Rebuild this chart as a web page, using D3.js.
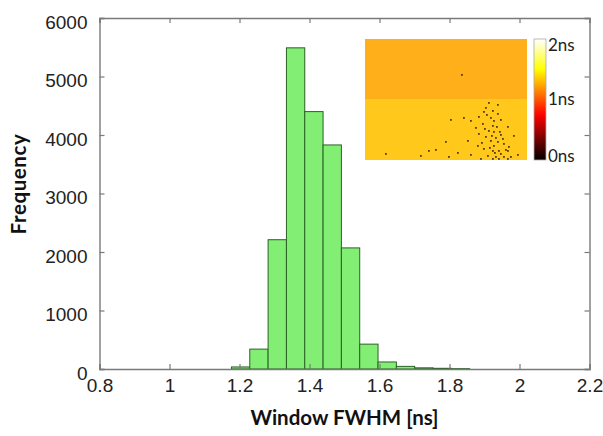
<!DOCTYPE html>
<html><head><meta charset="utf-8">
<script src="https://cdn.jsdelivr.net/npm/d3@7"></script>
<style>body{margin:0;background:#fff}svg{display:block}</style>
</head><body>
<svg id="c" width="603" height="436"></svg>
<script>
// ---- data ----
const binEdges = [1.1770, 1.2294, 1.2817, 1.3341, 1.3864, 1.4388, 1.4911, 1.5435, 1.5958, 1.6482, 1.7005, 1.7529, 1.8052, 1.8576];
const counts   = [35, 340, 2210, 5490, 4400, 3830, 2070, 425, 120, 45, 20, 12, 6];
const xTicks = [0.8, 1, 1.2, 1.4, 1.6, 1.8, 2, 2.2];
const yTicks = [0, 1000, 2000, 3000, 4000, 5000, 6000];
const xLabel = "Window FWHM [ns]";
const yLabel = "Frequency";
// inset map: two halves (ns) and dark pixels (col,row) on a 162x121 grid
const insetHalfValues = [1.24, 1.32];   // top half, bottom half
const darkCols = [96,123,132,120,127,118,132,85,98,113,125,105,128,135,117,127,131,142,123,128,113,135,120,130,148,125,132,138,112,128,143,80,102,118,127,133,142,63,70,20,92,105,122,130,135,138,145,152,115,127,83,133,142,55,110,121,126,137,116,124,129,140,119,134];
const darkRows = [35,63,65,68,71,72,74,80,78,77,78,81,81,80,84,86,87,87,91,92,94,95,97,98,96,101,102,104,106,106,107,102,101,109,111,111,111,111,110,114,113,115,116,117,114,117,117,115,119,119,117,119,119,116,88,75,96,99,103,108,113,110,89,92];
const cbTicks = [0, 1, 2];
const cbLabels = ["0ns", "1ns", "2ns"];

// ---- chart ----
const svg = d3.select("#c");
svg.append("rect").attr("width",603).attr("height",436).attr("fill","#fff");
const L=99.5, R=589.5, T=18, B=369;
const x = d3.scaleLinear().domain([0.8,2.2]).range([L,R]);
const y = d3.scaleLinear().domain([0,6000]).range([B,T]);
const axisCol = "#7a7a7a";

// bars
svg.append("g").selectAll("rect").data(counts).join("rect")
  .attr("x",(d,i)=>x(binEdges[i]))
  .attr("width",(d,i)=>x(binEdges[i+1])-x(binEdges[i]))
  .attr("y",d=>y(d))
  .attr("height",d=>B-y(d))
  .attr("fill","#82ef74")
  .attr("stroke","#2a6224")
  .attr("stroke-width",1);

// axes (box with inward ticks on all sides)
const tickLen = 5;
const fontTick = "'Liberation Sans', Arial, sans-serif";
const gB = svg.append("g").attr("transform",`translate(0,${B})`)
  .call(d3.axisBottom(x).tickValues(xTicks).tickFormat(d3.format("")).tickSize(-tickLen).tickPadding(9));
const gT = svg.append("g").attr("transform",`translate(0,${T})`)
  .call(d3.axisTop(x).tickValues(xTicks).tickFormat("").tickSize(-tickLen));
const gL = svg.append("g").attr("transform",`translate(${L},0)`)
  .call(d3.axisLeft(y).tickValues(yTicks).tickFormat(d3.format("d")).tickSize(-tickLen).tickPadding(12));
const gR = svg.append("g").attr("transform",`translate(${R},0)`)
  .call(d3.axisRight(y).tickValues(yTicks).tickFormat("").tickSize(-tickLen));
[gB,gT,gL,gR].forEach(g=>{
  g.select(".domain").attr("stroke",axisCol).attr("stroke-width",1.4);
  g.selectAll(".tick line").attr("stroke",axisCol).attr("stroke-width",1.2);
  g.selectAll("text").attr("fill","#222").style("font-family",fontTick).style("font-size","19px");
});
gL.selectAll(".tick text").attr("dy","0.55em");
gB.selectAll(".tick text").attr("dy","0.75em");

// axis titles
svg.append("text").attr("x",(L+R)/2).attr("y",425).attr("text-anchor","middle")
  .style("font-family","Lato, sans-serif").style("font-weight","bold").style("font-size","20.5px")
  .attr("fill","#111").text(xLabel);
svg.append("text").attr("transform","translate(26,184) rotate(-90)").attr("text-anchor","middle")
  .style("font-family","Lato, sans-serif").style("font-weight","bold").style("font-size","20.5px")
  .style("letter-spacing","0.6px")
  .attr("fill","#111").text(yLabel);

// inset image
const inset = {x:365, y:39, w:162, h:121};
const hot = t => {
  t = Math.max(0, Math.min(1, t));
  const r = Math.min(1, t/0.375), g = Math.max(0, Math.min(1,(t-0.375)/0.375)), b = Math.max(0,(t-0.75)/0.25);
  return d3.rgb(r*255, g*255, b*255);
};
const cbScale = d3.scaleLinear().domain([0,2]).range([0,1]);
const washed = v => d3.interpolateRgb(hot(cbScale(v)), "#ffffff")(0.1);
const ic = d3.scaleLinear().domain([0,162]).range([inset.x, inset.x+inset.w]);
const ir = d3.scaleLinear().domain([0,121]).range([inset.y, inset.y+inset.h]);
const halfRows = [[0,60],[60,121]];
svg.append("g").selectAll("rect").data(insetHalfValues).join("rect")
  .attr("x",ic(0)).attr("width",ic(162)-ic(0))
  .attr("y",(d,i)=>ir(halfRows[i][0])).attr("height",(d,i)=>ir(halfRows[i][1])-ir(halfRows[i][0]))
  .attr("fill",d=>washed(d));
svg.append("g").selectAll("rect").data(darkCols).join("rect")
  .attr("x",(d)=>ic(d)).attr("y",(d,i)=>ir(darkRows[i]))
  .attr("width",1.8).attr("height",1.8).attr("fill","#2a1e0c").attr("opacity",0.8);

// colorbar
const cb = {x:534, y:39, w:12, h:121};
const defs = svg.append("defs");
const grad = defs.append("linearGradient").attr("id","hotg").attr("x1",0).attr("y1",1).attr("x2",0).attr("y2",0);
d3.range(0,1.0001,0.05).forEach(t=>grad.append("stop").attr("offset",t).attr("stop-color",hot(t).formatHex()));
svg.append("rect").attr("x",cb.x).attr("y",cb.y).attr("width",cb.w).attr("height",cb.h)
  .attr("fill","url(#hotg)").attr("stroke","#aaa").attr("stroke-width",0.8);
const cy = d3.scaleLinear().domain([0,2]).range([cb.y+cb.h, cb.y]);
svg.append("g").selectAll("text").data(cbTicks).join("text")
  .attr("x",cb.x+14).attr("y",d=>cy(d)).attr("dy",(d,i)=>i===0?"0.1em":(i===2?"0.7em":"0.35em"))
  .style("font-family","Lato, sans-serif").style("font-size","17px").attr("fill","#222")
  .text((d,i)=>cbLabels[i]);
</script>
</body></html>
